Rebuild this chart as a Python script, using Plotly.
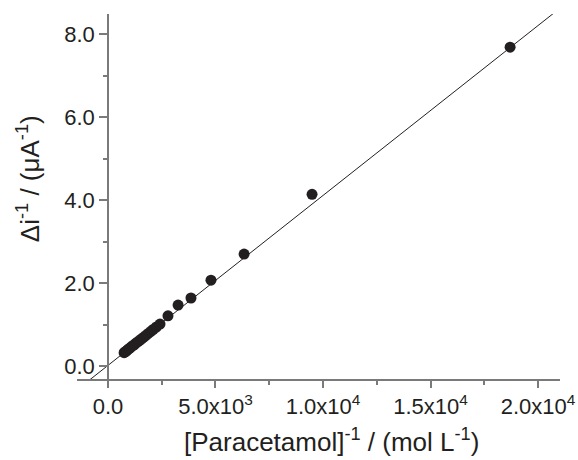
import plotly.graph_objects as go

# Data
conc_inv = [750, 800, 850, 900, 960, 1020, 1080, 1150, 1220, 1300, 1380, 1460, 1550,
            1650, 1750, 1860, 1980, 2100, 2250, 2420, 2790, 3260, 3860, 4790, 6330, 9490, 18700]
delta_i_inv = [0.32, 0.34, 0.36, 0.38, 0.41, 0.43, 0.46, 0.49, 0.51, 0.55, 0.58, 0.61, 0.65,
               0.69, 0.73, 0.78, 0.83, 0.88, 0.94, 1.01, 1.21, 1.47, 1.64, 2.07, 2.70, 4.14, 7.69]

fit_x = [-1000, 20800]
fit_y = [-0.396, 8.54]

x_tickvals = [0, 5000, 10000, 15000, 20000]
x_ticktext = ["0.0", "5.0x10<sup>3</sup>", "1.0x10<sup>4</sup>", "1.5x10<sup>4</sup>", "2.0x10<sup>4</sup>"]
x_minor = [2500, 7500, 12500, 17500]
y_tickvals = [0, 2, 4, 6, 8]
y_ticktext = ["0.0", "2.0", "4.0", "6.0", "8.0"]
y_minor = [1, 3, 5, 7]

x_title = "[Paracetamol]<sup>-1</sup> / (mol L<sup>-1</sup>)"
y_title = "Δi<sup>-1</sup> / (μA<sup>-1</sup>)"

x_range = [-1440, 21020]
y_range = [-0.314, 8.49]

ink = "#231f20"
axis_col = "#7a7a7a"
font_family = "Liberation Sans, Arial, sans-serif"

fig = go.Figure()
fig.add_trace(go.Scatter(x=fit_x, y=fit_y, mode="lines",
                         line=dict(color=ink, width=1), showlegend=False, hoverinfo="skip"))
fig.add_trace(go.Scatter(x=conc_inv, y=delta_i_inv, mode="markers",
                         marker=dict(color=ink, size=11, line=dict(width=0)),
                         showlegend=False))

ypos = (0 - x_range[0]) / (x_range[1] - x_range[0])

fig.update_layout(
    width=578, height=460,
    margin=dict(l=77, r=18, t=14, b=81),
    paper_bgcolor="white", plot_bgcolor="white",
    font=dict(family=font_family, color=ink, size=22),
    xaxis=dict(
        range=x_range, showgrid=False, zeroline=False, automargin=False,
        showline=True, linecolor=axis_col, linewidth=1.5,
        ticks="outside", ticklen=7, tickcolor=axis_col, tickwidth=1.5,
        tickmode="array", tickvals=x_tickvals, ticktext=x_ticktext,
        tickfont=dict(size=22, color=ink),
        minor=dict(tickmode="array", tickvals=x_minor, ticks="outside", ticklen=4,
                   tickcolor=axis_col, tickwidth=1.5, showgrid=False),
    ),
    yaxis=dict(
        range=y_range, showgrid=False, zeroline=False, automargin=False,
        anchor="free", position=ypos,
        showline=True, linecolor=axis_col, linewidth=1.5,
        ticks="outside", ticklen=8, tickcolor=axis_col, tickwidth=1.5,
        tickmode="array", tickvals=y_tickvals, ticktext=y_ticktext,
        tickfont=dict(size=22, color=ink),
        minor=dict(tickmode="array", tickvals=y_minor, ticks="outside", ticklen=4,
                   tickcolor=axis_col, tickwidth=1.5, showgrid=False),
    ),
    annotations=[
        dict(text=x_title, xref="paper", yref="paper", x=0.527, y=-0.218,
             xanchor="center", yanchor="bottom", showarrow=False,
             font=dict(size=26, color=ink)),
        dict(text=y_title, xref="paper", yref="paper", x=-0.099, y=0.548,
             xanchor="center", yanchor="middle", showarrow=False, textangle=-90,
             font=dict(size=26, color=ink)),
    ],
)

fig.write_html("out.html", config={"displayModeBar": False},
               post_script="document.body.style.margin='0';document.body.style.padding='0';")
